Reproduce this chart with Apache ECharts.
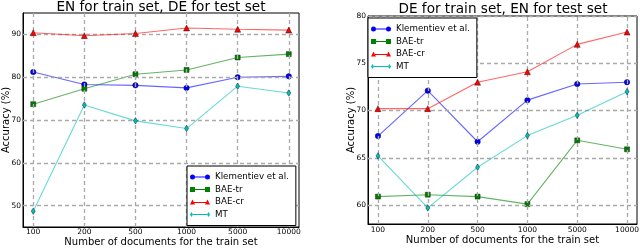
<!DOCTYPE html>
<html>
<head>
<meta charset="utf-8">
<script src="https://cdn.jsdelivr.net/npm/echarts@6/dist/echarts.min.js"></script>
<style>html,body{margin:0;padding:0;background:#fff}#c{width:640px;height:248px}</style>
</head>
<body>
<div id="c"></div>
<script>
// ---- data ----
const xLabels = ['100', '200', '500', '1000', '5000', '10000'];
const seriesNames = ['Klementiev et al.', 'BAE-tr', 'BAE-cr', 'MT'];
const leftTitle = 'EN for train set, DE for test set';
const rightTitle = 'DE for train set, EN for test set';
const enDeKlementiev = [81.2, 78.3, 78.1, 77.5, 80.0, 80.2];
const enDeBaeTr = [73.7, 77.3, 80.7, 81.7, 84.6, 85.4];
const enDeBaeCr = [90.4, 89.7, 90.2, 91.5, 91.2, 91.0];
const enDeMt = [48.7, 73.5, 69.8, 68.0, 77.9, 76.3];
const deEnKlementiev = [67.3, 72.1, 66.7, 71.1, 72.8, 73.0];
const deEnBaeTr = [60.9, 61.1, 60.9, 60.1, 66.85, 65.9];
const deEnBaeCr = [70.2, 70.2, 73.0, 74.1, 77.0, 78.3];
const deEnMt = [65.2, 59.7, 64.0, 67.35, 69.5, 72.0];
const leftYTicks = [50, 60, 70, 80, 90];
const rightYTicks = [60, 65, 70, 75, 80];

// ---- styles ----
const FONT = 'DejaVu Sans';
const colors = ['#0000ff', '#008000', '#ff0000', '#00bfbf'];
const thinDiamond = 'path://M0,-1L0.55,0L0,1L-0.55,0Z';
const symbols = ['circle', 'rect', 'triangle', thinDiamond];
const symbolSizes = [5.5, 5, 6, [4, 6.5]];
const legendIcons = [
  'path://M5,2L15,2L15,3L5,3Z M0,2.5A2.5,2.5 0 1,0 5,2.5A2.5,2.5 0 1,0 0,2.5Z M15,2.5A2.5,2.5 0 1,0 20,2.5A2.5,2.5 0 1,0 15,2.5Z',
  'path://M0,0L5,0L5,5L0,5Z M15,0L20,0L20,5L15,5Z M5,2L15,2L15,3L5,3Z',
  'path://M0,5L2.5,0L5,5Z M15,5L17.5,0L20,5Z M4,2.5L16,2.5L16,3.5L4,3.5Z',
  'path://M0,2.5L1.5,0L3,2.5L1.5,5Z M17,2.5L18.5,0L20,2.5L18.5,5Z M3,2L17,2L17,3L3,3Z'
];
const xTickValues = xLabels.map((_, i) => i);
const dashed = { color: '#aaaaaa', width: 1.3, type: [4, 3] };

function toPoints(arr) { return arr.map((v, i) => [i, v]); }

function makeSeries(gridIdx, arrays) {
  return arrays.map((arr, k) => ({
    name: seriesNames[k],
    type: 'line',
    xAxisIndex: gridIdx,
    yAxisIndex: gridIdx,
    data: toPoints(arr),
    symbol: symbols[k],
    symbolSize: symbolSizes[k],
    showSymbol: true,
    animation: false,
    color: colors[k],
    lineStyle: { color: colors[k], width: 1.1, opacity: 0.6 },
    itemStyle: { color: colors[k], borderColor: '#000', borderWidth: 0.4 },
    z: 3 + k
  }));
}

function gridLineSeries(gridIdx, yTicks) {
  return {
    name: 'grid' + gridIdx, type: 'line', xAxisIndex: gridIdx, yAxisIndex: gridIdx,
    data: [], symbol: 'none', silent: true, z: 1, animation: false,
    markLine: {
      silent: true, symbol: 'none', animation: false,
      label: { show: false },
      lineStyle: dashed,
      emphasis: { disabled: true },
      data: xTickValues.map(v => ({ xAxis: v })).concat(yTicks.map(v => ({ yAxis: v })))
    }
  };
}

function xAxis(gridIdx, nameGap, margin) {
  return {
    type: 'value', gridIndex: gridIdx, min: -0.2, max: 5.2,
    name: 'Number of documents for the train set',
    nameLocation: 'middle', nameGap: nameGap, nameMoveOverlap: false,
    nameTextStyle: { fontFamily: FONT, fontSize: 10, color: '#000' },
    axisLine: { show: true, onZero: false, lineStyle: { color: '#000', width: 1 } },
    axisTick: { show: true, inside: true, length: 3, customValues: xTickValues, lineStyle: { color: '#000' } },
    axisLabel: { customValues: xTickValues, margin: margin, fontFamily: FONT, fontSize: 7.5, color: '#000',
      formatter: v => xLabels[Math.round(v)] },
    splitLine: { show: false }
  };
}

function yAxis(gridIdx, min, max, ticks) {
  return {
    type: 'value', gridIndex: gridIdx, min: min, max: max,
    name: 'Accuracy (%)', nameLocation: 'middle', nameGap: 12, nameMoveOverlap: false,
    nameTextStyle: { fontFamily: FONT, fontSize: 10, color: '#000' },
    axisLine: { show: true, onZero: false, lineStyle: { color: '#000', width: 1 } },
    axisTick: { show: true, inside: true, length: 3, customValues: ticks, lineStyle: { color: '#000' } },
    axisLabel: { customValues: ticks, margin: 2, fontFamily: FONT, fontSize: 7.5, color: '#000' },
    splitLine: { show: false }
  };
}

function legend(left, top) {
  return {
    orient: 'vertical', left: left, top: top,
    data: seriesNames.map((n, k) => ({ name: n, icon: legendIcons[k] })),
    itemWidth: 20, itemHeight: 5, itemGap: 2.5,
    padding: [6, 7, 6, 3],
    backgroundColor: '#fff', borderColor: '#000', borderWidth: 1, borderRadius: 0,
    itemStyle: { borderWidth: 0 },
    textStyle: { fontFamily: FONT, fontSize: 8.7, color: '#000', lineHeight: 10 },
    selectedMode: false, z: 10
  };
}

const chart = echarts.init(document.getElementById('c'), null, { renderer: 'canvas' });
chart.setOption({
  animation: false,
  backgroundColor: '#fff',
  title: [
    { text: leftTitle, left: 161, top: 0, textAlign: 'center', padding: 0,
      textStyle: { fontFamily: FONT, fontSize: 13.6, fontWeight: 'normal', color: '#000' } },
    { text: rightTitle, left: 503, top: 2, textAlign: 'center', padding: 0,
      textStyle: { fontFamily: FONT, fontSize: 13.6, fontWeight: 'normal', color: '#000' } }
  ],
  grid: [
    { left: 23, top: 13, right: 341, bottom: 21, show: true, borderColor: '#000', borderWidth: 1,
      backgroundColor: 'transparent', containLabel: false, outerBoundsMode: 'none' },
    { left: 368, top: 16, right: 3, bottom: 24, show: true, borderColor: '#000', borderWidth: 1,
      backgroundColor: 'transparent', containLabel: false, outerBoundsMode: 'none' }
  ],
  xAxis: [xAxis(0, 10.5, 1.5), xAxis(1, 11, 2)],
  yAxis: [yAxis(0, 45, 95, leftYTicks), yAxis(1, 58, 80, rightYTicks)],
  legend: [legend(187, 166), legend(368, 18)],
  series: [gridLineSeries(0, leftYTicks), gridLineSeries(1, rightYTicks)]
    .concat(makeSeries(0, [enDeKlementiev, enDeBaeTr, enDeBaeCr, enDeMt]))
    .concat(makeSeries(1, [deEnKlementiev, deEnBaeTr, deEnBaeCr, deEnMt]))
});
</script>
</body>
</html>
